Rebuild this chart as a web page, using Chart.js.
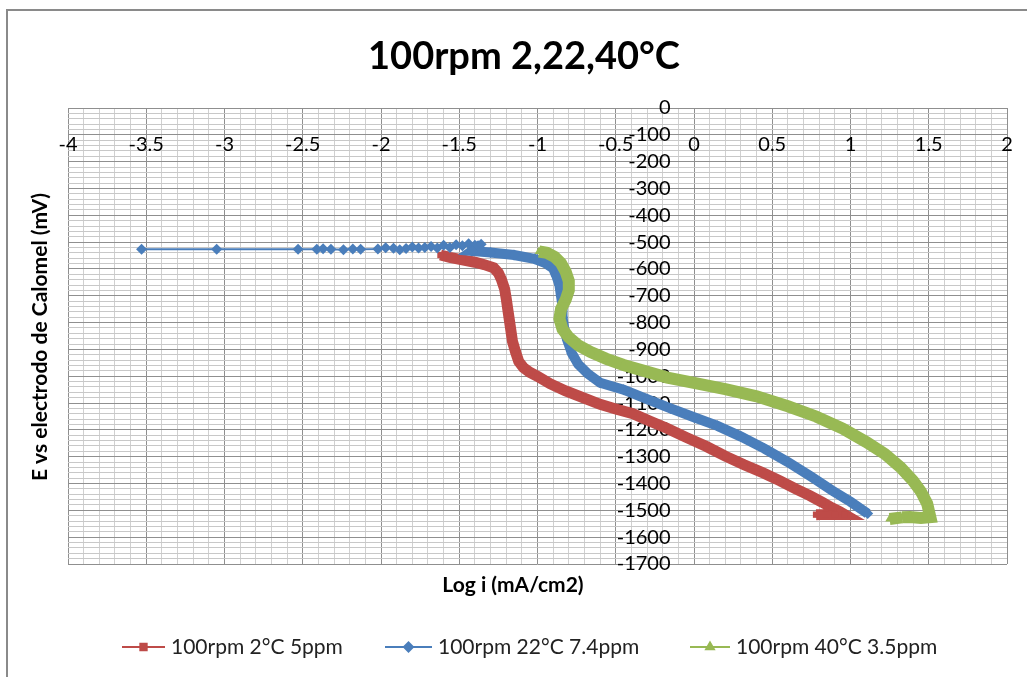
<!DOCTYPE html>
<html>
<head>
<meta charset="utf-8">
<script src="https://cdn.jsdelivr.net/npm/chart.js@4.4.1/dist/chart.umd.min.js"></script>
<style>
  html, body { margin: 0; background: #fff; overflow: hidden; }
  #caja { position: relative; width: 1027px; height: 677px; }
</style>
</head>
<body>
<div id="caja"><canvas id="myChart"></canvas></div>
<script>
// datos (Log i vs E)
const titulo = '100rpm 2,22,40°C';
const nombres = ['100rpm 2°C 5ppm', '100rpm 22°C 7.4ppm', '100rpm 40°C 3.5ppm'];

const rojoX = [-1.62,-1.56,-1.48,-1.40,-1.34,-1.28,-1.25,-1.23,-1.21,-1.20,-1.19,-1.18,-1.17,-1.16,-1.14,-1.12,-1.09,-1.05,-1.00,-0.92,-0.82,-0.71,-0.60,-0.50,-0.39,-0.28,-0.17,-0.05,0.08,0.20,0.32,0.44,0.55,0.65,0.74,0.82,0.88,0.93,0.96,0.90,0.84,0.78];
const rojoY = [-548,-557,-566,-575,-584,-596,-615,-640,-675,-710,-750,-790,-830,-870,-910,-945,-968,-985,-1000,-1028,-1055,-1080,-1105,-1122,-1140,-1168,-1195,-1228,-1262,-1298,-1330,-1360,-1390,-1420,-1445,-1470,-1490,-1505,-1515,-1515,-1515,-1516];

const azulX = [-3.53,-3.05,-2.53,-2.41,-2.37,-2.32,-2.24,-2.18,-2.13,-2.02,-1.97,-1.92,-1.88,-1.84,-1.80,-1.76,-1.72,-1.68,-1.64,-1.60,-1.56,-1.52,-1.48,-1.44,-1.40,-1.36,
  -1.42,-1.30,-1.15,-1.02,-0.95,-0.90,-0.88,-0.86,-0.85,-0.84,-0.84,-0.83,-0.81,-0.78,-0.74,-0.68,-0.60,-0.45,-0.30,-0.15,0.00,0.15,0.30,0.45,0.60,0.75,0.88,1.00,1.08,1.11];
const azulY = [-527,-527,-527,-527,-525,-527,-528,-526,-527,-526,-521,-523,-528,-524,-518,-522,-520,-516,-522,-512,-520,-510,-514,-506,-512,-508,
  -533,-539,-548,-562,-578,-598,-625,-660,-700,-740,-780,-820,-865,-915,-955,-990,-1024,-1050,-1085,-1120,-1153,-1185,-1225,-1270,-1320,-1375,-1425,-1468,-1500,-1512];
const azulDispersos = 25; // puntos sueltos a la izquierda (linea fina)

const verdeX = [-0.99,-0.94,-0.89,-0.85,-0.82,-0.80,-0.80,-0.82,-0.85,-0.86,-0.84,-0.80,-0.74,-0.66,-0.56,-0.45,-0.32,-0.17,0.00,0.20,0.40,0.60,0.78,0.95,1.10,1.22,1.32,1.40,1.45,1.49,1.51,1.45,1.38,1.33,1.25];
const verdeY = [-535,-540,-555,-578,-610,-645,-680,-715,-750,-785,-825,-855,-885,-910,-935,-958,-980,-1005,-1025,-1048,-1075,-1112,-1150,-1195,-1245,-1290,-1340,-1390,-1430,-1475,-1525,-1528,-1525,-1526,-1532];

const colores = ['#BE4B48', '#4A7EBB', '#98B954'];
const marcas = ['rect', 'rectRot', 'triangle'];

function puntos(xs, ys){
    return xs.map((x, i) => ({x: x, y: ys[i]}));
}

const FUENTE = 'Lato, "Open Sans", sans-serif';
const esMayorX = v => Math.abs(v * 2 - Math.round(v * 2)) < 1e-6;
const esMayorY = v => Math.abs(v / 100 - Math.round(v / 100)) < 1e-6;

// textos extra: titulo, titulos de ejes, leyenda y marco
const textosExtra = {
    id: 'textosExtra',
    afterDraw(chart){
        const c = chart.ctx;
        c.save();
        // marco
        c.strokeStyle = '#8a8a8a';
        c.lineWidth = 2;
        c.beginPath();
        c.moveTo(7, 677); c.lineTo(7, 10); c.lineTo(1027, 10);
        c.stroke();

        c.fillStyle = '#000';
        c.textAlign = 'center';
        c.textBaseline = 'middle';
        c.font = 'bold 38px ' + FUENTE;
        c.fillText(titulo, 524, 57);

        c.font = 'bold 21px ' + FUENTE;
        c.fillText('Log i (mA/cm2)', 513, 585);
        c.save();
        c.translate(40, 337);
        c.rotate(-Math.PI / 2);
        c.fillText('E vs electrodo de Calomel (mV)', 0, 0);
        c.restore();

        // leyenda
        const items = [[122, 165], [385, 432], [690, 730]];
        c.font = '21px ' + FUENTE;
        c.textAlign = 'left';
        items.forEach((it, i) => {
            const y = 647;
            c.strokeStyle = colores[i];
            c.lineWidth = 2;
            c.beginPath(); c.moveTo(it[0], y); c.lineTo(it[1], y); c.stroke();
            Chart.helpers.drawPoint(c, {pointStyle: marcas[i], radius: 4.5, borderWidth: 1}, (it[0] + it[1]) / 2, y);
            c.fillStyle = colores[i];
            c.fill();
            c.fillStyle = '#222';
            c.fillText(nombres[i], it[1] + 6, y);
        });
        c.restore();
    }
};

const ctx = document.getElementById('myChart').getContext('2d');
window.myChart = new Chart(ctx, {
    type: 'scatter',
    data: {
        datasets: [
            {
                label: nombres[0], data: puntos(rojoX, rojoY), showLine: true,
                borderColor: colores[0], backgroundColor: colores[0], borderWidth: 11,
                pointStyle: 'rect', pointRadius: 4.5, pointBorderWidth: 0, order: 3
            },
            {
                label: nombres[1], data: puntos(azulX, azulY), showLine: true,
                borderColor: colores[1], backgroundColor: colores[1], borderWidth: 10,
                pointStyle: 'rectRot', pointRadius: 5.5, pointBorderWidth: 0, order: 2,
                segment: { borderWidth: s => s.p0DataIndex < azulDispersos ? 2 : 10 }
            },
            {
                label: nombres[2], data: puntos(verdeX, verdeY), showLine: true,
                borderColor: colores[2], backgroundColor: colores[2], borderWidth: 12,
                pointStyle: 'triangle', pointRadius: 5, pointBorderWidth: 0, order: 1,
                segment: { borderWidth: s => s.p0DataIndex >= verdeX.length - 2 ? 0 : 12 }
            }
        ]
    },
    options: {
        responsive: true,
        maintainAspectRatio: false,
        animation: false,
        layout: { padding: { left: 68, right: 20, top: 108, bottom: 113 } },
        plugins: {
            legend: { display: false },
            tooltip: { enabled: false },
            title: { display: false }
        },
        scales: {
            x: {
                type: 'linear', position: { y: 0 }, min: -4, max: 2,
                afterFit: s => { s.paddingRight = 6; s.paddingLeft = 10; },
                ticks: {
                    stepSize: 0.1, autoSkip: false, maxRotation: 0, padding: 25,
                    color: '#000', font: { family: FUENTE, size: 20 },
                    callback: v => esMayorX(v) ? String(Math.round(v * 2) / 2) : ''
                },
                grid: {
                    drawTicks: false,
                    color: c => esMayorX(c.tick.value) ? '#8f8f8f' : '#d0d0d0',
                    lineWidth: 1
                },
                border: { display: true, color: '#8f8f8f' }
            },
            y: {
                type: 'linear', position: { x: -0.15 }, min: -1700, max: 0,
                afterFit: s => { s.paddingTop = 0; s.paddingBottom = 0; },
                ticks: {
                    stepSize: 20, autoSkip: false, padding: 0,
                    color: '#000', font: { family: FUENTE, size: 20 },
                    callback: v => esMayorY(v) ? String(Math.round(v)) : ''
                },
                grid: {
                    drawTicks: false,
                    color: c => esMayorY(c.tick.value) ? '#8f8f8f' : '#c8c8c8',
                    lineWidth: 1
                },
                border: { display: false }
            }
        }
    },
    plugins: [textosExtra]
});
</script>
</body>
</html>
